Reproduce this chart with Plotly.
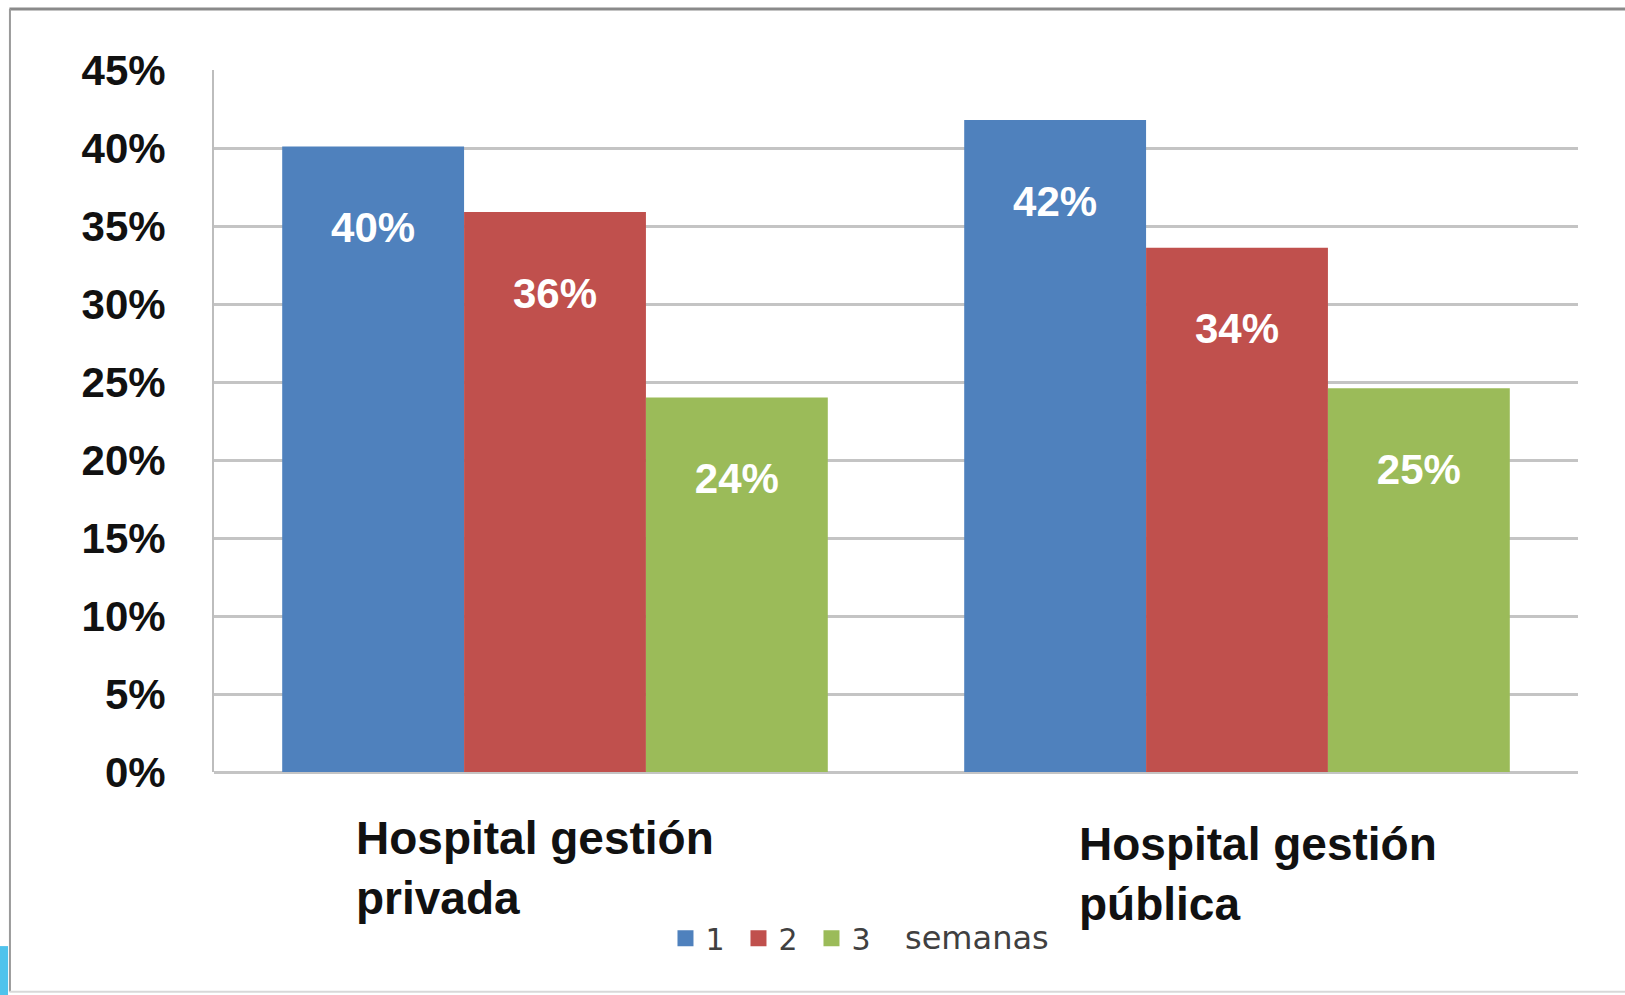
import plotly.graph_objects as go

# --- data ---
categories = ["Hospital gestión<br>privada", "Hospital gestión<br>pública"]
semana_1 = [0.401, 0.418]
semana_2 = [0.359, 0.336]
semana_3 = [0.240, 0.246]
series_names = ["1", "2", "3"]
colors = ["#4F81BD", "#C0504D", "#9BBB59"]

fig = go.Figure()
for name, vals, col in zip(series_names, [semana_1, semana_2, semana_3], colors):
    fig.add_trace(go.Bar(
        x=categories, y=vals, name=name, marker=dict(color=col, line=dict(width=0)),
        texttemplate="\u00a0<br>%{y:.0%}", textposition="inside", insidetextanchor="end",
        textfont=dict(family="Liberation Sans", size=42, color="white", weight="bold"),
        constraintext="none", showlegend=False,
    ))
    # legend swatch only (bigger squares than the bar default)
    fig.add_trace(go.Scatter(
        x=[None], y=[None], mode="markers", name=name,
        marker=dict(symbol="square", size=20, color=col),
    ))

# category labels written as left-aligned blocks under each group
for cat, dx, dy in zip(categories, [-20, 21], [0, 6]):
    fig.add_annotation(
        x=cat, y=0, xref="x", yref="y", xanchor="center", yanchor="top",
        text=cat, align="left", showarrow=False, xshift=dx, yshift=-38 - dy,
        font=dict(family="Liberation Sans", size=46, color="#111111", weight="bold"),
    )

fig.add_annotation(
    x=0.5048, y=-0.237, xref="paper", yref="paper", xanchor="left", yanchor="middle",
    text="semanas", showarrow=False,
    font=dict(family="DejaVu Sans", size=32, color="#404040"),
)

# frame around the picture
fig.add_shape(type="line", xref="paper", yref="paper", x0=-0.15, x1=1.05, y0=1.087, y1=1.087,
              line=dict(color="#8a8a8a", width=3))
fig.add_shape(type="line", xref="paper", yref="paper", x0=-0.1496, x1=-0.1496, y0=1.087, y1=-0.313,
              line=dict(color="#9a9a9a", width=2))
fig.add_shape(type="line", xref="paper", yref="paper", x0=-0.15, x1=1.05, y0=-0.313, y1=-0.313,
              line=dict(color="#d8d8d8", width=2))
fig.add_shape(type="rect", xref="paper", yref="paper", x0=-0.157, x1=-0.151, y0=-0.248, y1=-0.32,
              fillcolor="#4FC3EC", line=dict(width=0))

fig.update_layout(
    width=1625, height=995,
    margin=dict(l=214, r=47, t=70, b=223),
    paper_bgcolor="white", plot_bgcolor="white",
    barmode="group", bargap=0.2, bargroupgap=0,
    showlegend=True,
    legend=dict(orientation="h", x=0.331, y=-0.237, xanchor="left", yanchor="middle",
                font=dict(family="DejaVu Sans", size=30, color="#404040"),
                itemclick=False, traceorder="normal", itemsizing="trace",
                entrywidth=28, entrywidthmode="pixels"),
)
fig.update_xaxes(showticklabels=False, showgrid=False, showline=False)
fig.update_yaxes(
    range=[0, 0.45], dtick=0.05, tickformat=".0%",
    showgrid=True, gridcolor="#C4C4C4", gridwidth=2.5,
    zeroline=True, zerolinecolor="#C4C4C4", zerolinewidth=2.5,
    showline=True, linecolor="#BDBDBD", linewidth=2,
    ticklabelstandoff=38,
    tickfont=dict(family="Liberation Sans", size=42, color="#111111", weight="bold"),
)

fig.write_html("out.html", config={"displayModeBar": False},
               post_script="document.body.style.margin='0';")
